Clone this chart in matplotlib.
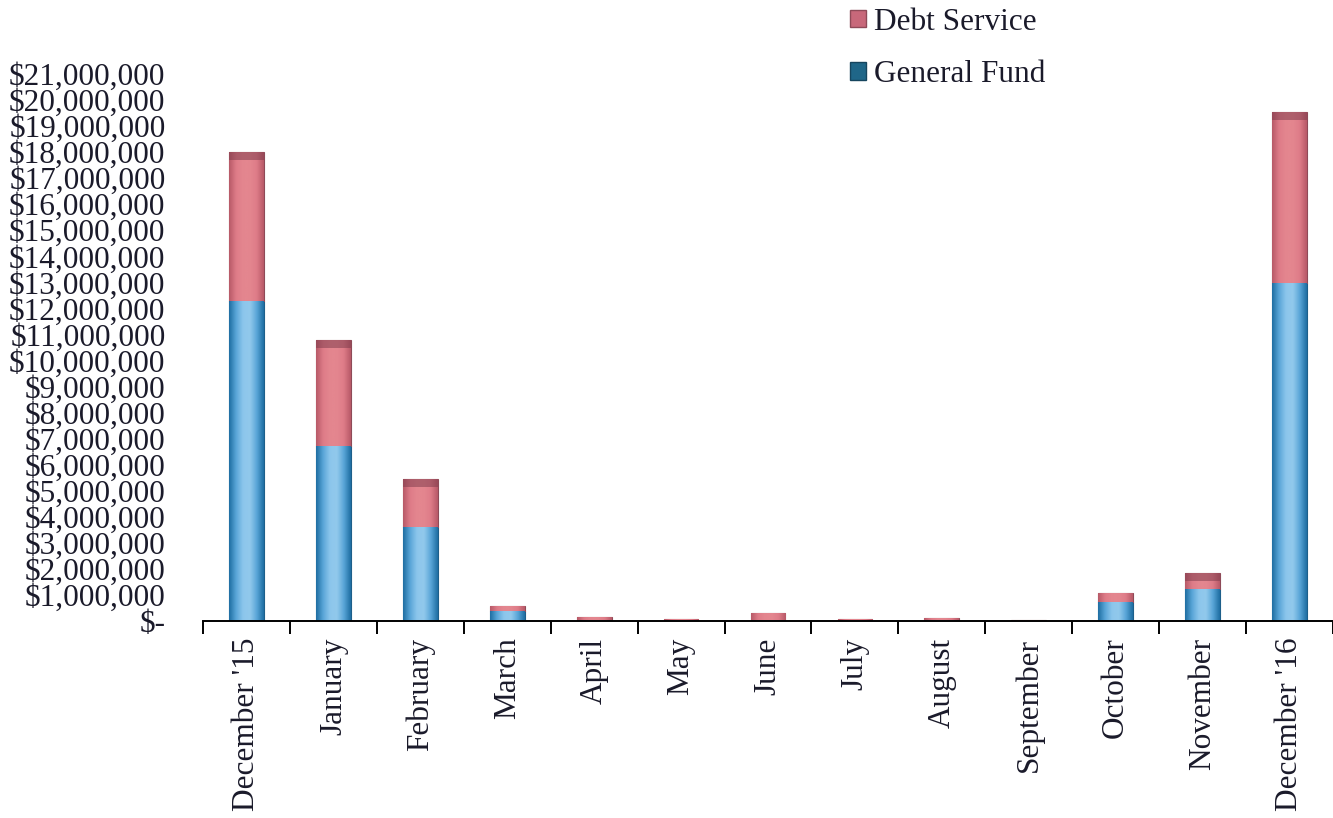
import numpy as np
import matplotlib.pyplot as plt
from matplotlib.colors import LinearSegmentedColormap
from matplotlib.ticker import FuncFormatter, MultipleLocator
from matplotlib.patches import Patch

plt.rcParams['font.family'] = ['Liberation Serif', 'DejaVu Serif']

months = ["December '15", 'January', 'February', 'March', 'April', 'May', 'June',
          'July', 'August', 'September', 'October', 'November', "December '16"]
general_fund = [12.30e6, 6.72e6, 3.61e6, 0.40e6, 0.05e6, 0.03e6, 0.03e6,
                0.02e6, 0.03e6, 0.01e6, 0.72e6, 1.22e6, 12.98e6]
debt_service = [5.70e6, 4.07e6, 1.84e6, 0.17e6, 0.12e6, 0.06e6, 0.27e6,
                0.05e6, 0.07e6, 0.02e6, 0.36e6, 0.62e6, 6.56e6]

blue_cmap = LinearSegmentedColormap.from_list(
    'gf', ['#1f6fa3', '#5aa6d8', '#8cc6ec', '#92c9ec', '#5aa6d8', '#1f6fa3'])
pink_cmap = LinearSegmentedColormap.from_list(
    'ds', ['#b85a68', '#de7c88', '#e4868f', '#e4868f', '#de7c88', '#b85a68'])


def shade_bars(ax, bars, cmap, top_color=None):
    # horizontal gradient clipped to each bar, plus a darker cap on top
    grad = np.linspace(0, 1, 64).reshape(1, -1)
    for b in bars:
        x0, y0 = b.get_x(), b.get_y()
        w, h = b.get_width(), b.get_height()
        if h <= 0:
            continue
        im = ax.imshow(grad, cmap=cmap, aspect='auto', extent=(x0, x0 + w, y0, y0 + h),
                       zorder=2, interpolation='bicubic')
        im.set_clip_path(b)
        if top_color is not None and h > 0.4e6:
            ax.bar(x0 + w / 2, 0.3e6, w, bottom=y0 + h - 0.3e6, color=top_color,
                   alpha=0.5, zorder=3, linewidth=0)


fig = plt.figure(figsize=(13.33, 8.18), dpi=100)
ax = fig.add_axes([203 / 1333, (818 - 621) / 818, (1333 - 203) / 1333, (621 - 74) / 818])

x = np.arange(len(months))
gf_bars = ax.bar(x, general_fund, 0.4, color='#5aa6d8', edgecolor='#1d5f8a',
                 linewidth=0.8, zorder=1, label='General Fund')
ds_bars = ax.bar(x, debt_service, 0.4, bottom=general_fund, color='#e0808a',
                 edgecolor='#8e4a58', linewidth=0.8, zorder=1, label='Debt Service')
shade_bars(ax, gf_bars, blue_cmap)
shade_bars(ax, ds_bars, pink_cmap, top_color='#7a3a4a')

ax.set_xlim(-0.5, len(months) - 0.5)
ax.set_ylim(0, 21e6)
ax.yaxis.set_major_locator(MultipleLocator(1e6))


def money(v, pos):
    if v == 0:
        return '$-'
    return '${:,.0f}'.format(v)


ax.yaxis.set_major_formatter(FuncFormatter(money))
ax.tick_params(axis='y', length=0, labelsize=22.5, pad=27, colors='#1a1a2a')
ax.set_xticks(x)
ax.set_xticklabels(months, rotation=90, fontsize=22.5, color='#1a1a2a')
ax.set_xticks(np.arange(-0.5, len(months) + 0.5, 1), minor=True)
ax.tick_params(axis='x', which='major', length=0, pad=12)
ax.tick_params(axis='x', which='minor', length=9, width=1.4, direction='out')
for s in ['top', 'right', 'left']:
    ax.spines[s].set_visible(False)
ax.spines['bottom'].set_linewidth(1.4)

handles = [Patch(facecolor='#c8687a', edgecolor='#8e4a58'),
           Patch(facecolor='#1f6688', edgecolor='#16455e')]
fig.legend(handles, ['Debt Service', 'General Fund'], loc='upper left',
           bbox_to_anchor=(822 / 1333, 1.025), frameon=False, fontsize=22.5,
           handlelength=0.5, handleheight=0.5, handletextpad=0.25, labelspacing=0.75,
           labelcolor='#1a1a2a')

fig.savefig('out.png', dpi=100)
